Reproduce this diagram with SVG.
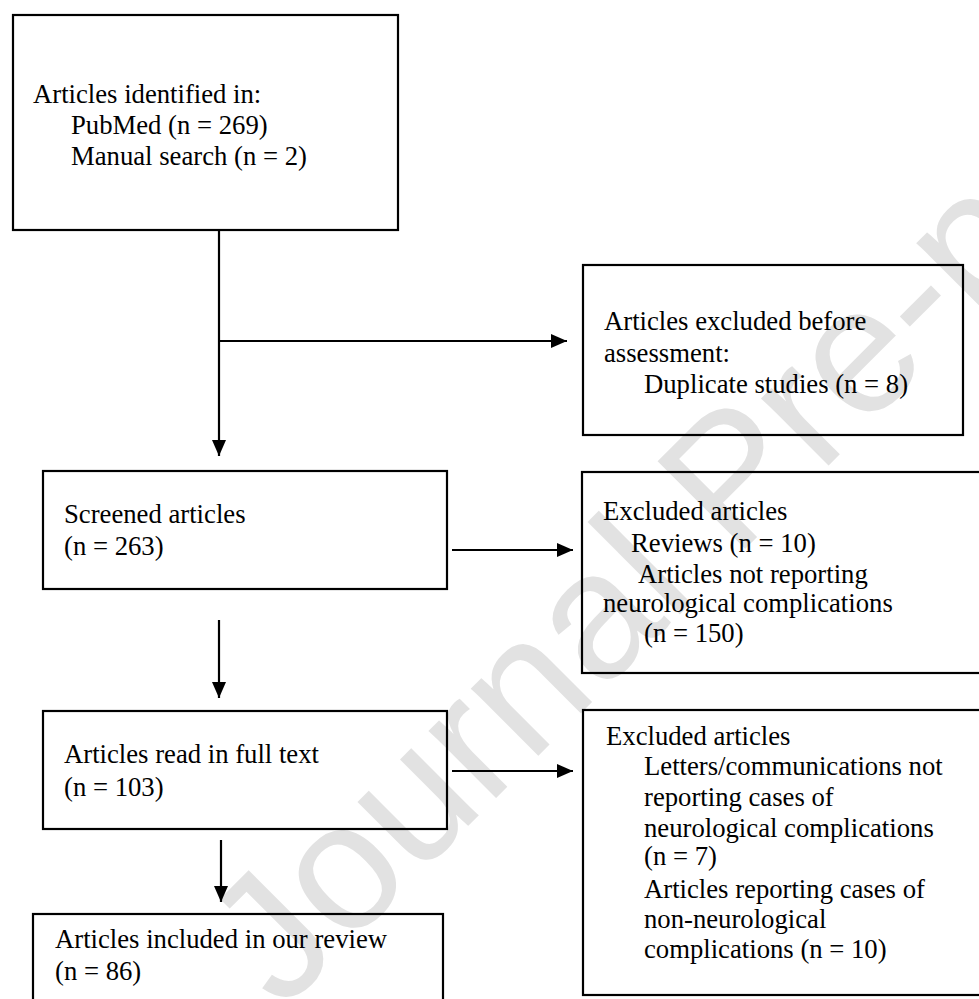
<svg xmlns="http://www.w3.org/2000/svg" width="979" height="999" viewBox="0 0 979 999">
<style>
.box{fill:none;stroke:#000;stroke-width:2.2}
.t{font-family:"Liberation Serif","Times New Roman",serif;font-size:26.7px;fill:#000}
.c{fill:none;stroke:#000;stroke-width:2.2}
.wm{font-family:"Liberation Sans",Arial,sans-serif;font-size:180px;fill:#e2e2e2}
</style>
<defs>
<marker id="ah" markerUnits="userSpaceOnUse" markerWidth="16" markerHeight="14" refX="16" refY="7" orient="auto">
<path d="M0,0 L16,7 L0,14 Z" fill="#000"/>
</marker>
</defs>
<rect width="979" height="999" fill="#fff"/>
<text class="wm" transform="translate(282,1012) rotate(-45)">Journal Pre-proof</text>
<g id="connectors">
<line class="c" x1="219" y1="230" x2="219" y2="456" marker-end="url(#ah)"/>
<line class="c" x1="219" y1="341" x2="567" y2="341" marker-end="url(#ah)"/>
<line class="c" x1="452" y1="550" x2="573" y2="550" marker-end="url(#ah)"/>
<line class="c" x1="219" y1="620" x2="219" y2="698" marker-end="url(#ah)"/>
<line class="c" x1="452" y1="771" x2="573" y2="771" marker-end="url(#ah)"/>
<line class="c" x1="221" y1="840" x2="221" y2="902" marker-end="url(#ah)"/>
</g>
<g id="identified">
<rect class="box" x="13" y="15" width="385" height="215"/>
<text class="t" x="33" y="103">Articles identified in:</text>
<text class="t" x="71" y="134">PubMed (n = 269)</text>
<text class="t" x="71" y="165">Manual search (n = 2)</text>
</g>
<g id="excluded-before">
<rect class="box" x="583" y="265" width="380" height="170"/>
<text class="t" x="604" y="330">Articles excluded before</text>
<text class="t" x="604" y="362">assessment:</text>
<text class="t" x="644" y="393">Duplicate studies (n = 8)</text>
</g>
<g id="screened">
<rect class="box" x="43" y="471" width="404" height="118"/>
<text class="t" x="64" y="523">Screened articles</text>
<text class="t" x="64" y="555">(n = 263)</text>
</g>
<g id="excluded-1">
<rect class="box" x="582" y="472" width="420" height="201"/>
<text class="t" x="603" y="520">Excluded articles</text>
<text class="t" x="631" y="552">Reviews (n = 10)</text>
<text class="t" x="638" y="583">Articles not reporting</text>
<text class="t" x="603" y="612">neurological complications</text>
<text class="t" x="644" y="642">(n = 150)</text>
</g>
<g id="full-text">
<rect class="box" x="43" y="711" width="404" height="118"/>
<text class="t" x="64" y="763">Articles read in full text</text>
<text class="t" x="64" y="796">(n = 103)</text>
</g>
<g id="excluded-2">
<rect class="box" x="583" y="710" width="420" height="285"/>
<text class="t" x="606" y="745">Excluded articles</text>
<text class="t" x="644" y="775">Letters/communications not</text>
<text class="t" x="644" y="806">reporting cases of</text>
<text class="t" x="644" y="837">neurological complications</text>
<text class="t" x="644" y="865">(n = 7)</text>
<text class="t" x="644" y="898">Articles reporting cases of</text>
<text class="t" x="644" y="928">non-neurological</text>
<text class="t" x="644" y="958">complications (n = 10)</text>
</g>
<g id="included">
<rect class="box" x="33" y="914" width="410" height="100"/>
<text class="t" x="55" y="948">Articles included in our review</text>
<text class="t" x="55" y="980">(n = 86)</text>
</g>
</svg>
